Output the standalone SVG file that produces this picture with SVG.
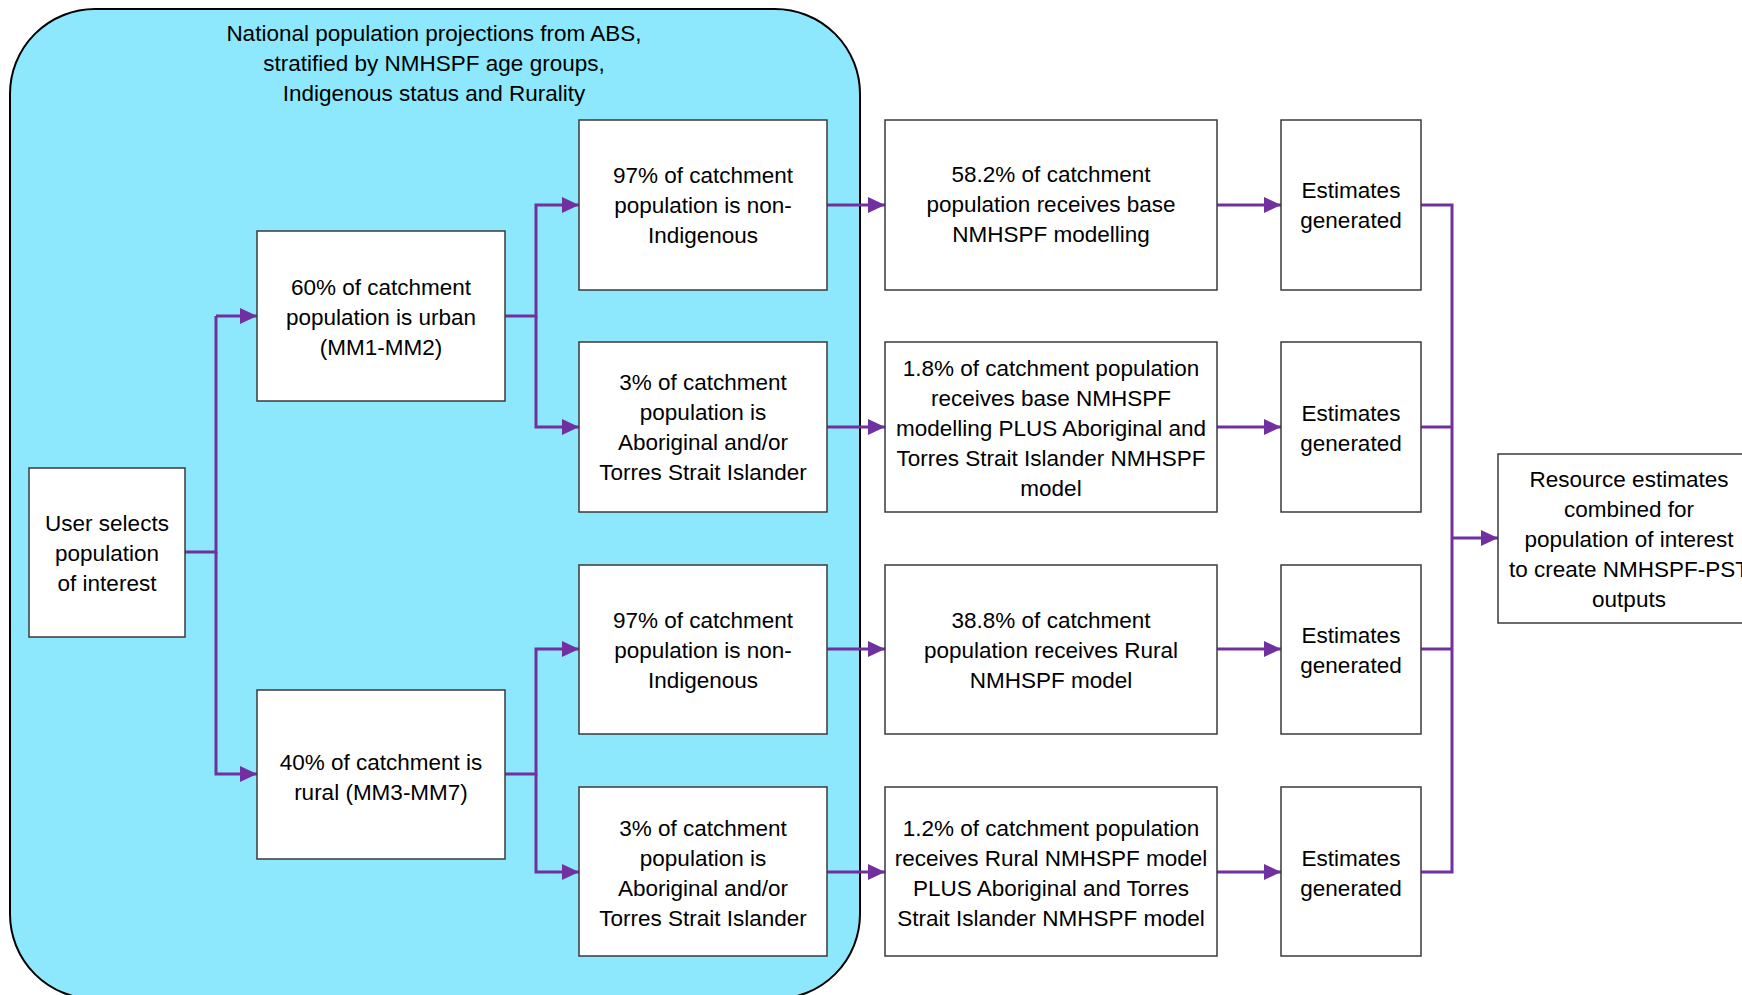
<svg xmlns="http://www.w3.org/2000/svg" width="1742" height="995" viewBox="0 0 1742 995">
<style>
.bg{fill:#8DE8FD;stroke:#000;stroke-width:2}
.box{fill:#fff;stroke:#3a3a3a;stroke-width:1.5}
text{font-family:"Liberation Sans",Arial,sans-serif;font-size:22.5px;fill:#000;text-anchor:middle;dominant-baseline:central}
.c{fill:none;stroke:#7030A0;stroke-width:3}
</style>
<defs>
<marker id="ah" markerUnits="userSpaceOnUse" markerWidth="18" markerHeight="18" viewBox="0 0 18 18" refX="17" refY="9" orient="auto">
<path d="M0,1 L17,9 L0,17 Z" fill="#7030A0"/>
</marker>
</defs>
<g id="region">
<rect class="bg" x="10" y="9" width="850" height="990" rx="85" ry="85"/>
<text x="434" y="33">National population projections from ABS,</text>
<text x="434" y="63">stratified by NMHSPF age groups,</text>
<text x="434" y="93">Indigenous status and Rurality</text>
</g>
<g id="connectors">
<path class="c" d="M185,552 H216 V316"/>
<path class="c" d="M216,316 H257" marker-end="url(#ah)"/>
<path class="c" d="M216,552 V774 H257" marker-end="url(#ah)"/>
<path class="c" d="M505,316 H536 V205 H579" marker-end="url(#ah)"/>
<path class="c" d="M536,316 V427 H579" marker-end="url(#ah)"/>
<path class="c" d="M505,774 H536 V649 H579" marker-end="url(#ah)"/>
<path class="c" d="M536,774 V872 H579" marker-end="url(#ah)"/>
<path class="c" d="M827,205 H885" marker-end="url(#ah)"/>
<path class="c" d="M827,427 H885" marker-end="url(#ah)"/>
<path class="c" d="M827,649 H885" marker-end="url(#ah)"/>
<path class="c" d="M827,872 H885" marker-end="url(#ah)"/>
<path class="c" d="M1217,205 H1281" marker-end="url(#ah)"/>
<path class="c" d="M1217,427 H1281" marker-end="url(#ah)"/>
<path class="c" d="M1217,649 H1281" marker-end="url(#ah)"/>
<path class="c" d="M1217,872 H1281" marker-end="url(#ah)"/>
<path class="c" d="M1421,205 H1452 V872 H1421"/>
<path class="c" d="M1421,427 H1452"/>
<path class="c" d="M1421,649 H1452"/>
<path class="c" d="M1452,538 H1498" marker-end="url(#ah)"/>
</g>
<g id="user">
<rect class="box" x="29" y="468" width="156" height="169"/>
<text x="107" y="523">User selects</text>
<text x="107" y="553">population</text>
<text x="107" y="583">of interest</text>
</g>
<g id="urban">
<rect class="box" x="257" y="231" width="248" height="170"/>
<text x="381" y="287">60% of catchment</text>
<text x="381" y="317">population is urban</text>
<text x="381" y="347">(MM1-MM2)</text>
</g>
<g id="rural">
<rect class="box" x="257" y="690" width="248" height="169"/>
<text x="381" y="762">40% of catchment is</text>
<text x="381" y="792">rural (MM3-MM7)</text>
</g>
<g id="urban-nonindig">
<rect class="box" x="579" y="120" width="248" height="170"/>
<text x="703" y="175">97% of catchment</text>
<text x="703" y="205">population is non-</text>
<text x="703" y="235">Indigenous</text>
</g>
<g id="urban-indig">
<rect class="box" x="579" y="342" width="248" height="170"/>
<text x="703" y="382">3% of catchment</text>
<text x="703" y="412">population is</text>
<text x="703" y="442">Aboriginal and/or</text>
<text x="703" y="472">Torres Strait Islander</text>
</g>
<g id="rural-nonindig">
<rect class="box" x="579" y="565" width="248" height="169"/>
<text x="703" y="620">97% of catchment</text>
<text x="703" y="650">population is non-</text>
<text x="703" y="680">Indigenous</text>
</g>
<g id="rural-indig">
<rect class="box" x="579" y="787" width="248" height="169"/>
<text x="703" y="828">3% of catchment</text>
<text x="703" y="858">population is</text>
<text x="703" y="888">Aboriginal and/or</text>
<text x="703" y="918">Torres Strait Islander</text>
</g>
<g id="model1">
<rect class="box" x="885" y="120" width="332" height="170"/>
<text x="1051" y="174">58.2% of catchment</text>
<text x="1051" y="204">population receives base</text>
<text x="1051" y="234">NMHSPF modelling</text>
</g>
<g id="model2">
<rect class="box" x="885" y="342" width="332" height="170"/>
<text x="1051" y="368">1.8% of catchment population</text>
<text x="1051" y="398">receives base NMHSPF</text>
<text x="1051" y="428">modelling PLUS Aboriginal and</text>
<text x="1051" y="458">Torres Strait Islander NMHSPF</text>
<text x="1051" y="488">model</text>
</g>
<g id="model3">
<rect class="box" x="885" y="565" width="332" height="169"/>
<text x="1051" y="620">38.8% of catchment</text>
<text x="1051" y="650">population receives Rural</text>
<text x="1051" y="680">NMHSPF model</text>
</g>
<g id="model4">
<rect class="box" x="885" y="787" width="332" height="169"/>
<text x="1051" y="828">1.2% of catchment population</text>
<text x="1051" y="858">receives Rural NMHSPF model</text>
<text x="1051" y="888">PLUS Aboriginal and Torres</text>
<text x="1051" y="918">Strait Islander NMHSPF model</text>
</g>
<g id="est1">
<rect class="box" x="1281" y="120" width="140" height="170"/>
<text x="1351" y="190">Estimates</text>
<text x="1351" y="220">generated</text>
</g>
<g id="est2">
<rect class="box" x="1281" y="342" width="140" height="170"/>
<text x="1351" y="413">Estimates</text>
<text x="1351" y="443">generated</text>
</g>
<g id="est3">
<rect class="box" x="1281" y="565" width="140" height="169"/>
<text x="1351" y="635">Estimates</text>
<text x="1351" y="665">generated</text>
</g>
<g id="est4">
<rect class="box" x="1281" y="787" width="140" height="169"/>
<text x="1351" y="858">Estimates</text>
<text x="1351" y="888">generated</text>
</g>
<g id="combined">
<rect class="box" x="1498" y="454" width="262" height="169"/>
<text x="1629" y="479">Resource estimates</text>
<text x="1629" y="509">combined for</text>
<text x="1629" y="539">population of interest</text>
<text x="1629" y="569">to create NMHSPF-PST</text>
<text x="1629" y="599">outputs</text>
</g>
</svg>
